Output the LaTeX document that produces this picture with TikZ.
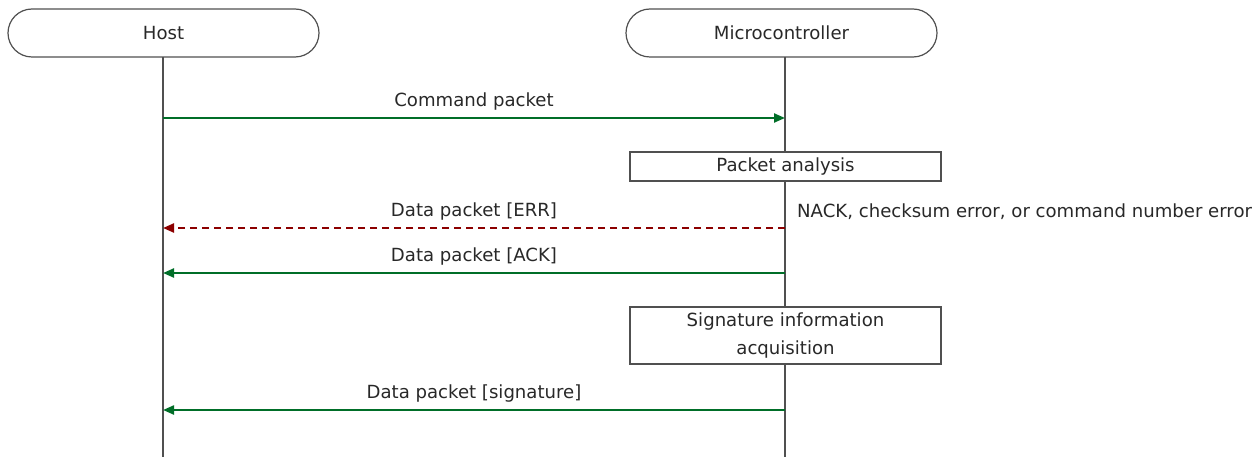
\documentclass[tikz,border=0pt]{standalone}
\usepackage{fontspec}
\setmainfont{DejaVu Sans}
\usetikzlibrary{arrows.meta}
\definecolor{okgreen}{RGB}{0,110,40}
\definecolor{errred}{RGB}{140,0,0}
\definecolor{txt}{RGB}{40,40,40}
\definecolor{ln}{RGB}{80,80,80}
\begin{document}
\begin{tikzpicture}[x=1pt,y=-1pt,
  font=\fontsize{18.1}{22}\selectfont, text=txt,
  actor/.style={draw=ln,line width=1.2pt,rounded corners=24pt,minimum width=311pt,minimum height=48pt,inner sep=0pt},
  procbox/.style={draw=ln,line width=1.2pt,minimum width=311pt,inner sep=0pt,align=center},
  life/.style={draw=ln,line width=1.3pt},
  msg/.style={draw=okgreen,line width=2.2pt,-{Triangle[length=11pt,width=9pt]}},
  errmsg/.style={draw=errred,line width=2.2pt,dash pattern=on 7pt off 5pt,-{Triangle[length=11pt,width=9pt]}},
  lbl/.style={inner sep=0pt}]
\useasboundingbox (0,0) rectangle (1258,457);
\node[actor] (host) at (163.5,33) {Host};
\node[actor] (mcu) at (781.5,33) {Microcontroller};
\coordinate (hostend) at (163,457);
\coordinate (mcuend) at (785,457);
\draw[life] (163,57) -- (hostend);
\draw[life] (785,57) -- (mcuend);
% Command packet
\coordinate (h1) at (163,118); \coordinate (m1) at (785,118);
\draw[msg] (h1) -- (m1);
\node[lbl] (l1) at (474,102) {Command packet};
% Packet analysis
\node[procbox,minimum height=29pt,fill=white] (pa) at (785.5,166.5) {Packet analysis};
% ERR
\coordinate (h2) at (163,228); \coordinate (m2) at (785,228);
\draw[errmsg] (m2) -- (h2);
\node[lbl] (l2) at (474,212) {Data packet [ERR]};
\node[lbl,anchor=west] (nack) at (797,212) {NACK, checksum error, or command number error};
% ACK
\coordinate (h3) at (163,273); \coordinate (m3) at (785,273);
\draw[msg] (m3) -- (h3);
\node[lbl] (l3) at (474,257) {Data packet [ACK]};
% Signature
\node[procbox,minimum height=57pt,fill=white,font=\fontsize{18.1}{28}\selectfont] (sig) at (785.5,335.5) {Signature information\\acquisition};
% signature packet
\coordinate (h4) at (163,410); \coordinate (m4) at (785,410);
\draw[msg] (m4) -- (h4);
\node[lbl] (l4) at (474,394) {Data packet [signature]};
\end{tikzpicture}
\end{document}
